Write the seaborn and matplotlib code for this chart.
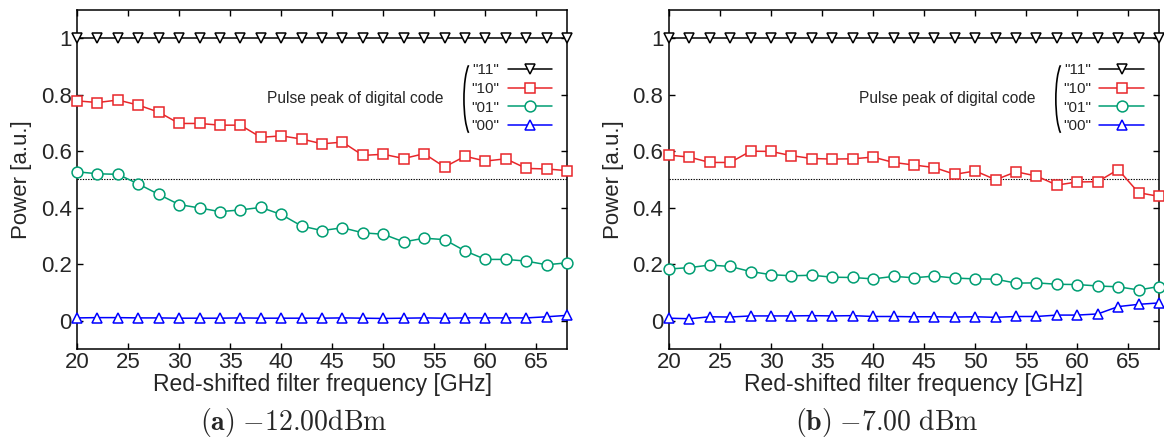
import matplotlib
matplotlib.use("Agg")
import matplotlib.pyplot as plt
import seaborn as sns
from matplotlib.lines import Line2D
from matplotlib.patches import Arc

# red-shifted filter frequency [GHz]
freq = list(range(20, 70, 2))

# panel (a): -12.00 dBm
a_11 = [1.0] * 25
a_10 = [0.778, 0.772, 0.781, 0.763, 0.738, 0.698, 0.698, 0.692, 0.692, 0.649,
        0.654, 0.643, 0.626, 0.632, 0.585, 0.589, 0.574, 0.591, 0.544, 0.582,
        0.565, 0.573, 0.539, 0.537, 0.531]
a_01 = [0.527, 0.520, 0.518, 0.484, 0.447, 0.411, 0.399, 0.386, 0.392, 0.401,
        0.376, 0.335, 0.319, 0.329, 0.311, 0.306, 0.279, 0.292, 0.287, 0.247,
        0.217, 0.217, 0.211, 0.198, 0.205]
a_00 = [0.010, 0.011, 0.011, 0.010, 0.010, 0.009, 0.009, 0.009, 0.010, 0.009,
        0.009, 0.009, 0.009, 0.010, 0.009, 0.008, 0.009, 0.010, 0.009, 0.010,
        0.010, 0.010, 0.010, 0.014, 0.019]

# panel (b): -7.00 dBm
b_11 = [1.0] * 25
b_10 = [0.586, 0.579, 0.560, 0.560, 0.600, 0.599, 0.584, 0.574, 0.572, 0.573,
        0.579, 0.560, 0.551, 0.542, 0.518, 0.530, 0.499, 0.527, 0.512, 0.480,
        0.491, 0.492, 0.535, 0.453, 0.440]
b_01 = [0.183, 0.188, 0.197, 0.192, 0.174, 0.163, 0.159, 0.161, 0.154, 0.153,
        0.148, 0.157, 0.152, 0.158, 0.151, 0.148, 0.147, 0.133, 0.134, 0.129,
        0.128, 0.123, 0.120, 0.109, 0.121]
b_00 = [0.009, 0.007, 0.014, 0.013, 0.017, 0.017, 0.017, 0.018, 0.017, 0.018,
        0.015, 0.015, 0.014, 0.014, 0.013, 0.014, 0.012, 0.015, 0.015, 0.020,
        0.020, 0.024, 0.050, 0.058, 0.063]

codes = ['"11"', '"10"', '"01"', '"00"']
colors = ["black", "#e8262a", "#009e73", "#0000ff"]
markers = ["v", "s", "o", "^"]
msizes = [6.8, 7.8, 7.8, 6.8]
captions = [r"$\mathbf{(a)}$ $-12.00\mathrm{dBm}$",
            r"$\mathbf{(b)}$ $-7.00\ \mathrm{dBm}$"]

sns.set_style("ticks")
plt.rcParams["font.family"] = ["Liberation Sans", "DejaVu Sans"]
plt.rcParams["mathtext.fontset"] = "cm"

fig = plt.figure(figsize=(11.64, 4.48), dpi=100)
axes = [fig.add_axes([0.0662, 0.221, 0.421, 0.757]),
        fig.add_axes([0.5747, 0.221, 0.421, 0.757])]

panels = [[a_11, a_10, a_01, a_00], [b_11, b_10, b_01, b_00]]

for ax, series, cap, cx in zip(axes, panels, captions, [0.252, 0.762]):
    ax.axhline(0.5, color="black", lw=0.8, ls=(0, (1.2, 1.2)), zorder=1)
    for vals, c, m, ms in zip(series, colors, markers, msizes):
        sns.lineplot(x=freq, y=vals, color=c, marker=m, markersize=ms,
                     mec=c, mfc="white", mew=1.1, lw=1.1, ax=ax, zorder=3,
                     clip_on=False)
    ax.set_xlim(20, 68)
    ax.set_ylim(-0.1, 1.1)
    ax.set_xticks(range(20, 70, 5))
    ax.set_yticks([0, 0.2, 0.4, 0.6, 0.8, 1])
    ax.set_yticklabels(["0", "0.2", "0.4", "0.6", "0.8", "1"])
    ax.tick_params(direction="in", top=True, right=True, length=4, width=1,
                   labelsize=16, color="black")
    ax.tick_params(axis="x", pad=2)
    ax.tick_params(axis="y", pad=4)
    for sp in ax.spines.values():
        sp.set_linewidth(1.1)
        sp.set_color("black")
    ax.set_xlabel("Red-shifted filter frequency [GHz]", fontsize=16.5, labelpad=0)
    ax.set_ylabel("Power [a.u.]", fontsize=16)
    ax.yaxis.set_label_coords(-0.092, 0.5)

    handles = [Line2D([], [], color=c, marker=m, markersize=ms, mec=c,
                      mfc="white", mew=1.1, lw=1.1)
               for c, m, ms in zip(colors, markers, msizes)]
    ax.legend(handles, codes, loc="upper right", bbox_to_anchor=(0.969, 0.842),
              frameon=False, markerfirst=False, fontsize=11, handlelength=2.9,
              handletextpad=0.55, labelspacing=0.3, borderpad=0,
              borderaxespad=0)
    ax.text(0.567, 0.74, "Pulse peak of digital code", transform=ax.transAxes,
            ha="center", va="center", fontsize=11.2)
    # big bracket grouping the legend entries
    ax.add_patch(Arc((0.806, 0.737), 0.033, 0.22, theta1=94, theta2=266,
                     transform=ax.transAxes, color="black", lw=1.2))

    fig.text(cx, 0.058, cap, ha="center", va="center", fontsize=20)

fig.savefig("out.png", dpi=100)
